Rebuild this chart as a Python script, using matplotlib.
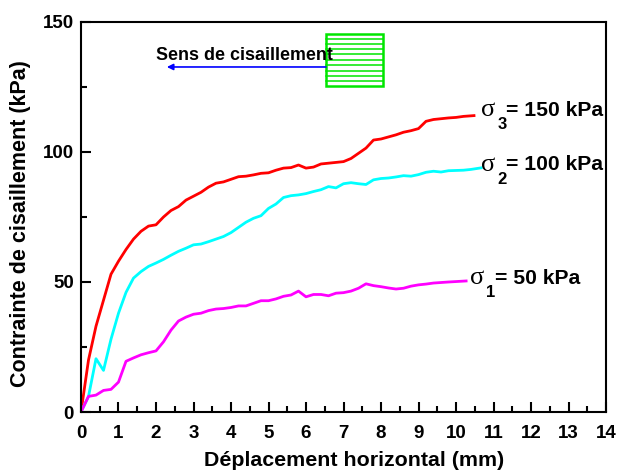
import matplotlib
matplotlib.use("Agg")
import matplotlib.pyplot as plt
from matplotlib.patches import Rectangle

plt.rcParams['font.family'] = ['Liberation Sans', 'DejaVu Sans']

# Red curve, sigma3 = 150 kPa
x_150 = [0, 0.2, 0.4, 0.6, 0.8, 1.0, 1.2, 1.4, 1.6, 1.8, 2.0, 2.2, 2.4, 2.6, 2.8, 3.0, 3.2, 3.4, 3.6,
         3.8, 4.0, 4.2, 4.4, 4.6, 4.8, 5.0, 5.2, 5.4, 5.6, 5.8, 6.0, 6.2, 6.4, 6.6, 6.8, 7.0, 7.2,
         7.4, 7.6, 7.8, 8.0, 8.2, 8.4, 8.6, 8.8, 9.0, 9.2, 9.4, 9.6, 9.8, 10.0, 10.2, 10.48]
y_150 = [0, 20, 33, 43, 53, 58, 62.5, 66.5, 69.5, 71.5, 72, 75, 77.5, 79, 81.5, 83, 84.5, 86.5, 88,
         88.5, 89.5, 90.5, 90.7, 91.2, 91.8, 92, 93, 93.8, 94, 95, 93.8, 94.2, 95.4, 95.7, 96, 96.3, 97.5,
         99.5, 101.5, 104.6, 105, 105.8, 106.6, 107.6, 108.2, 109, 111.8, 112.5, 112.8, 113.1, 113.3, 113.7, 114]

# Cyan curve, sigma2 = 100 kPa
x_100 = [0, 0.2, 0.4, 0.6, 0.8, 1.0, 1.2, 1.4, 1.6, 1.8, 2.0, 2.2, 2.4, 2.6, 2.8, 3.0, 3.2, 3.4, 3.6,
         3.8, 4.0, 4.2, 4.4, 4.6, 4.8, 5.0, 5.2, 5.4, 5.6, 5.8, 6.0, 6.2, 6.4, 6.6, 6.8, 7.0, 7.2,
         7.4, 7.6, 7.8, 8.0, 8.2, 8.4, 8.6, 8.8, 9.0, 9.2, 9.4, 9.6, 9.8, 10.0, 10.2, 10.4, 10.67]
y_100 = [0, 6, 20.5, 16, 28, 38, 46, 51.5, 54, 56, 57.3, 58.7, 60.3, 61.8, 63, 64.3, 64.6, 65.5, 66.5,
         67.5, 69, 71, 73, 74.5, 75.5, 78.3, 80, 82.5, 83.2, 83.5, 84, 84.8, 85.5, 86.7, 86.2, 87.8, 88.2,
         87.8, 87.5, 89.3, 89.8, 90, 90.4, 90.9, 90.7, 91.3, 92.2, 92.6, 92.3, 92.8, 92.9, 93, 93.3, 93.9]

# Magenta curve, sigma1 = 50 kPa
x_50 = [0, 0.2, 0.4, 0.6, 0.8, 1.0, 1.2, 1.4, 1.6, 1.8, 2.0, 2.2, 2.4, 2.6, 2.8, 3.0, 3.2, 3.4, 3.6,
        3.8, 4.0, 4.2, 4.4, 4.6, 4.8, 5.0, 5.2, 5.4, 5.6, 5.8, 6.0, 6.2, 6.4, 6.6, 6.8, 7.0, 7.2,
        7.4, 7.6, 7.8, 8.0, 8.2, 8.4, 8.6, 8.8, 9.0, 9.2, 9.4, 9.6, 9.8, 10.27]
y_50 = [0, 6, 6.5, 8.3, 8.7, 11.5, 19.5, 20.8, 22, 22.8, 23.5, 27, 31.5, 35, 36.5, 37.6, 38, 39, 39.6,
        39.8, 40.2, 40.8, 40.8, 41.8, 42.8, 42.8, 43.5, 44.5, 45, 46.5, 44.3, 45.2, 45.2, 44.7, 45.7, 45.9, 46.5,
        47.6, 49.3, 48.6, 48.2, 47.7, 47.3, 47.6, 48.4, 48.9, 49.2, 49.6, 49.8, 50, 50.4]

subs = ['3', '2', '1']
label_ends = ['= 150 kPa', '= 100 kPa', '= 50 kPa']
label_x = [10.67, 10.67, 10.37]
label_y = [116, 95, 51.5]
xticks = list(range(0, 15))
yticks = [0, 50, 100, 150]

fig = plt.figure(figsize=(6.17, 4.73), dpi=100)
ax = fig.add_axes([81 / 617, 1 - 412 / 473, 525 / 617, 390 / 473])

ax.plot(x_150, y_150, color='#ff0000', lw=2)
ax.plot(x_100, y_100, color='#00ffff', lw=2)
ax.plot(x_50, y_50, color='#ff00ff', lw=2)

ax.set_xlim(0, 14)
ax.set_ylim(0, 150)
ax.set_xticks(xticks)
ax.set_yticks(yticks)
ax.set_xticks([i + 0.5 for i in range(14)], minor=True)
ax.set_yticks([25, 75, 125], minor=True)
ax.tick_params(axis='x', which='major', direction='in', length=7, width=1.5, labelsize=13.5, pad=9)
ax.tick_params(axis='y', which='major', direction='in', length=7, width=1.5, labelsize=13.5, pad=5)
ax.tick_params(which='minor', direction='in', length=4, width=1.5)
for lab in ax.get_xticklabels() + ax.get_yticklabels():
    lab.set_fontweight('bold')
for s in ax.spines.values():
    s.set_linewidth(1.5)

fig.text(354 / 617, 1 - 460 / 473, 'Déplacement horizontal (mm)', fontsize=15.4, fontweight='bold',
         ha='center', va='center')
fig.text(21 / 617, 1 - 224 / 473, 'Contrainte de cisaillement (kPa)', fontsize=15.5, fontweight='bold',
         rotation=90, ha='center', va='center')

# Curve labels, sigma + lowered subscript + rest
for i in range(3):
    ax.text(label_x[i], label_y[i], 'σ', fontsize=19, family=['Liberation Serif', 'DejaVu Serif'],
            va='center', ha='left')
    ax.text(label_x[i] + 0.44, label_y[i] - 5.5, subs[i], fontsize=12, fontweight='bold', va='center', ha='left')
    ax.text(label_x[i] + 0.66, label_y[i], label_ends[i], fontsize=15.2, fontweight='bold', va='center', ha='left')

# Shear box sketch
ax.add_patch(Rectangle((6.53, 125.4), 1.52, 20, fill=False, ec='#00e600', lw=1.8))
for yy in [127.3, 129.3, 131.3, 133.5, 135.5, 137.5, 139.5, 141.5, 143.5]:
    ax.plot([6.53, 8.05], [yy, yy], color='#00e600', lw=1.1)

ax.text(4.36, 137.2, 'Sens de cisaillement', fontsize=12.9, fontweight='bold', ha='center', va='center')
ax.annotate('', xy=(2.29, 132.7), xytext=(6.53, 132.7),
            arrowprops=dict(arrowstyle='-|>', color='#0000ff', lw=1.2, mutation_scale=9, shrinkA=0, shrinkB=0))

fig.savefig('out.png', dpi=100)
